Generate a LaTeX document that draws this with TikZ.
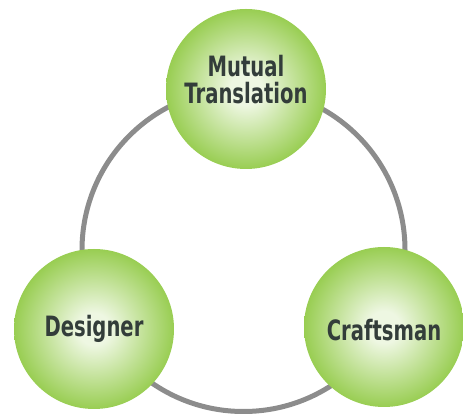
\documentclass[tikz,border=0pt]{standalone}
\usepackage{fontspec}
\usepackage{tikz}
\newfontfamily\ballfont{DejaVu Sans}[FakeStretch=0.70]

\definecolor{ballrim}{HTML}{7FC127}
\definecolor{ballcore}{HTML}{EEF7E2}
\definecolor{ringgray}{HTML}{8C8C8C}
\definecolor{inkslate}{HTML}{333D3A}

\pgfdeclareradialshading{ballshade}{\pgfpoint{0bp}{0bp}}{%
  color(0bp)=(ballcore); color(5bp)=(ballcore);
  color(31bp)=(ballrim); color(50bp)=(ballrim)}

\begin{document}
\begin{tikzpicture}[x=1pt,y=1pt,
    ball/.style={circle,minimum size=160pt,inner sep=0pt,shading=ballshade},
    caption/.style={align=center,text=inkslate,
      font=\ballfont\bfseries\fontsize{28}{27}\selectfont}]
    \useasboundingbox (0,0) rectangle (463,414);
    % ring behind the three balls
    \coordinate (hub) at (243.5,164);
    \draw[ringgray,line width=5pt] (hub) circle (161.5);
    \node[ball] (transl) at (246,325) {};
    \node[ball] (designer) at (94,85) {};
    \node[ball] (craftsman) at (384,87) {};
    \node[caption] (transl-text) at ([yshift=9]transl) {Mutual\\Translation};
    \node[caption] (designer-text) at (designer) {Designer};
    \node[caption] (craftsman-text) at ([yshift=-3]craftsman) {Craftsman};
\end{tikzpicture}
\end{document}
